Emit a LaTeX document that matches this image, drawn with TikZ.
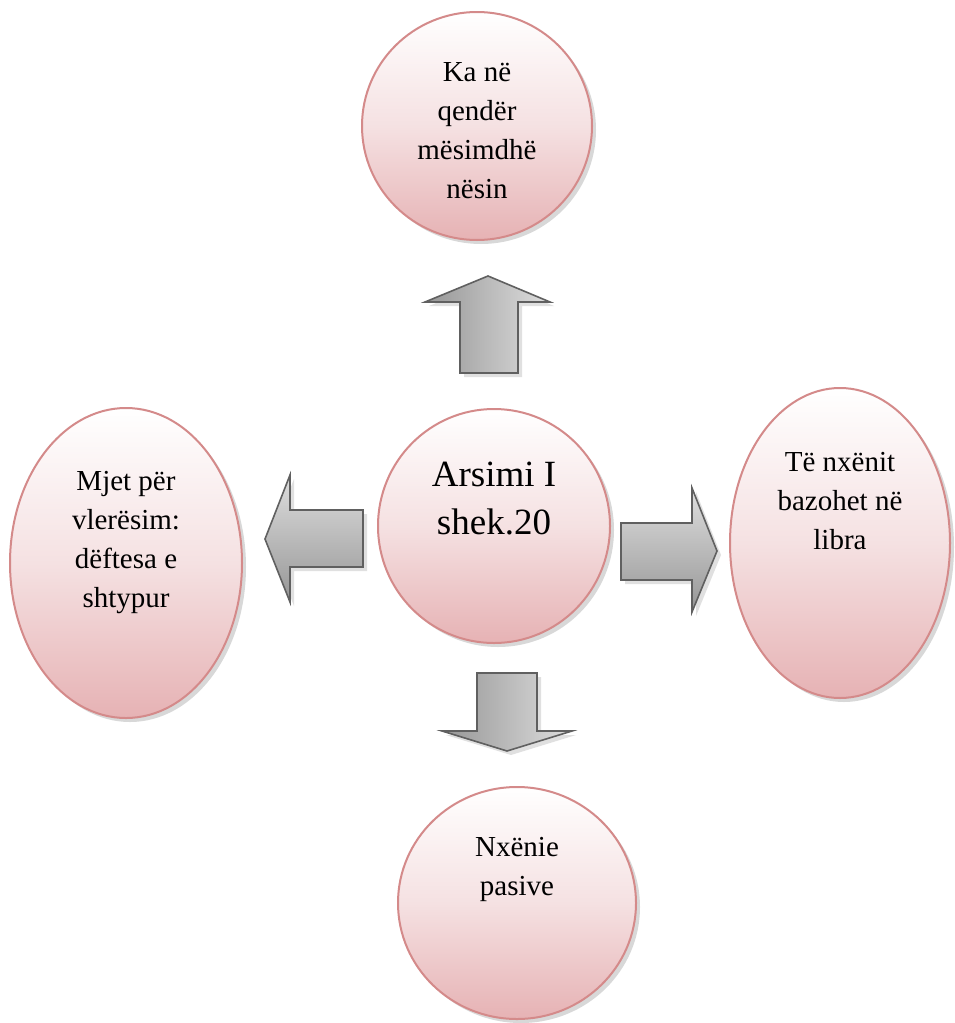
\documentclass[tikz,border=0pt]{standalone}
\usepackage{fontspec}
\setmainfont{Liberation Serif}
\usetikzlibrary{shapes.geometric,shadows}
\definecolor{rimred}{RGB}{212,138,138}
\definecolor{pinkbot}{RGB}{230,178,180}
\definecolor{pinkmid}{RGB}{245,225,226}
\definecolor{arrowedge}{RGB}{96,96,96}
\definecolor{arrowlight}{RGB}{222,222,222}
\definecolor{arrowdark}{RGB}{150,150,150}
\tikzset{
  bubble/.style={ellipse, draw=rimred, line width=2pt, inner sep=0pt,
    top color=white, bottom color=pinkbot, middle color=pinkmid,
    drop shadow={shadow xshift=4pt, shadow yshift=-4pt, opacity=0.25, fill=black!60}},
  smalltxt/.style={align=center, font=\fontsize{29}{39}\selectfont, inner sep=0pt},
  bigtxt/.style={align=center, font=\fontsize{37}{48}\selectfont, inner sep=0pt},
  blockarrow/.style={draw=arrowedge, line width=1.6pt, line join=miter,
    drop shadow={shadow xshift=4pt, shadow yshift=-4pt, opacity=0.2, fill=black!60}},
  vshade/.style={left color=arrowdark, right color=arrowlight},
  hshade/.style={top color=arrowlight, bottom color=arrowdark}
}
\begin{document}
\begin{tikzpicture}[x=1pt,y=-1pt]
\useasboundingbox[fill=white] (0,0) rectangle (954,1023);
% ellipses
\node[bubble, minimum width=230pt, minimum height=228pt] (top) at (477,126) {};
\node[bubble, minimum width=232pt, minimum height=234pt] (mid) at (494,526) {};
\node[bubble, minimum width=232pt, minimum height=310pt] (left) at (126,563) {};
\node[bubble, minimum width=220pt, minimum height=310pt] (right) at (840,543) {};
\node[bubble, minimum width=238pt, minimum height=232pt] (bot) at (517,903) {};
% texts
\node[smalltxt] (toptxt) at (477,131) {Ka në\\qendër\\mësimdhë\\nësin};
\node[bigtxt] (midtxt) at (494,499) {Arsimi I\\shek.20};
\node[smalltxt] (lefttxt) at (126,543) {Mjet për\\vlerësim:\\dëftesa e\\shtypur};
\node[smalltxt] (righttxt) at (840,501) {Të nxënit\\bazohet në\\libra};
\node[smalltxt] (bottxt) at (517,869) {Nxënie\\pasive};
% block arrows
\draw[blockarrow, vshade] (488,276) -- (550,302) -- (518,302) -- (518,373) -- (460,373) -- (460,302) -- (425,302) -- cycle;
\draw[blockarrow, hshade] (621,523) -- (692,523) -- (692,488) -- (717,551) -- (692,612) -- (692,580) -- (621,580) -- cycle;
\draw[blockarrow, hshade] (363,510) -- (290,510) -- (290,475) -- (265,539) -- (290,602) -- (290,567) -- (363,567) -- cycle;
\draw[blockarrow, vshade] (477,673) -- (537,673) -- (537,731) -- (572,731) -- (507,751) -- (442,731) -- (477,731) -- cycle;
\end{tikzpicture}
\end{document}
